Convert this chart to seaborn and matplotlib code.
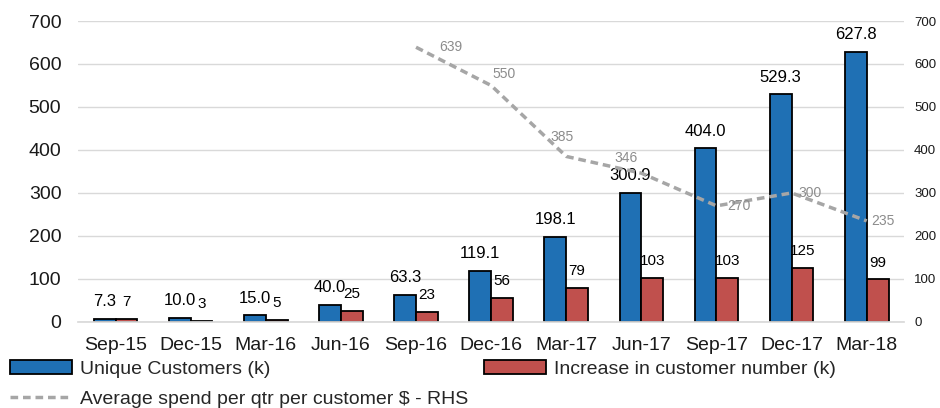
import numpy as np
import pandas as pd
import matplotlib
matplotlib.use("Agg")
import matplotlib.pyplot as plt
import seaborn as sns
from matplotlib.patches import Patch
from matplotlib.lines import Line2D

quarters = ["Sep-15", "Dec-15", "Mar-16", "Jun-16", "Sep-16", "Dec-16",
            "Mar-17", "Jun-17", "Sep-17", "Dec-17", "Mar-18"]
unique_customers = [7.3, 10.0, 15.0, 40.0, 63.3, 119.1, 198.1, 300.9, 404.0, 529.3, 627.8]
customer_increase = [7, 3, 5, 25, 23, 56, 79, 103, 103, 125, 99]
spend_quarters = ["Sep-16", "Dec-16", "Mar-17", "Jun-17", "Sep-17", "Dec-17", "Mar-18"]
avg_spend = [639, 550, 385, 346, 270, 300, 235]

bar_name = "Unique Customers (k)"
inc_name = "Increase in customer number (k)"
line_name = "Average spend per qtr per customer $ - RHS"

BLUE = "#1f70b4"
RED = "#c0504d"
GREY = "#a6a6a6"

df = pd.DataFrame({
    "quarter": quarters * 2,
    "value": unique_customers + customer_increase,
    "series": [bar_name] * len(quarters) + [inc_name] * len(quarters),
})
line_df = pd.DataFrame({
    "pos": [quarters.index(q) for q in spend_quarters],
    "spend": avg_spend,
})

sns.set_theme(style="white")
plt.rcParams["font.family"] = ["Liberation Sans", "DejaVu Sans"]

fig = plt.figure(figsize=(9.4, 4.08), dpi=100)
ax = fig.add_axes([0.083, 0.211, 0.879, 0.7375])

sns.barplot(data=df, x="quarter", y="value", hue="series", order=quarters,
            palette=[BLUE, RED], saturation=1, width=0.58, edgecolor="black",
            linewidth=1.3, legend=False, ax=ax)

ax.set_ylim(0, 700)
ax.set_xlim(-0.5, len(quarters) - 0.5)
ax.set_yticks(range(0, 701, 100))
ax.yaxis.grid(True, color="#d9d9d9", linewidth=1)
ax.set_axisbelow(True)
ax.set_xlabel("")
ax.set_ylabel("")
for s in ["top", "right", "left"]:
    ax.spines[s].set_visible(False)
ax.spines["bottom"].set_color("#d9d9d9")
ax.tick_params(axis="y", length=0, pad=12, labelsize=14, labelcolor="#1a1a1a")
ax.tick_params(axis="x", length=0, pad=11, labelsize=14, labelcolor="#1a1a1a")

ax.bar_label(ax.containers[0], labels=[f"{v:.1f}" for v in unique_customers],
             padding=7, fontsize=12, color="black")
ax.bar_label(ax.containers[1], labels=[f"{v:d}" for v in customer_increase],
             padding=7, fontsize=11, color="black")

ax2 = ax.twinx()
sns.lineplot(data=line_df, x="pos", y="spend", color=GREY, linewidth=2.5,
             linestyle=(0, (2.2, 1.4)), ax=ax2)
ax2.set_ylim(0, 700)
ax2.set_yticks(range(0, 701, 100))
ax2.set_ylabel("")
ax2.set_xlabel("")
for s in ax2.spines.values():
    s.set_visible(False)
ax2.tick_params(axis="y", length=0, pad=7, labelsize=9.5, labelcolor="#1a1a1a")

# label offsets in points (dx, dy)
label_offsets = [(25, 0), (9, 8), (-3, 14), (-11, 11), (16, 0), (13, 0), (12, 0)]
for (x, y), (dx, dy) in zip(zip(line_df["pos"], line_df["spend"]), label_offsets):
    ax2.annotate(f"{y}", (x, y), xytext=(dx, dy), textcoords="offset points",
                 ha="center", va="center", fontsize=10, color="#8c8c8c")

handles = [
    Patch(facecolor=BLUE, edgecolor="black", linewidth=1.3, label=bar_name),
    Line2D([], [], color=GREY, linewidth=2.5, linestyle=(0, (2.2, 1.4)), label=line_name),
    Patch(facecolor=RED, edgecolor="black", linewidth=1.3, label=inc_name),
]
fig.legend(handles=handles, ncol=2, loc="upper left",
           bbox_to_anchor=(10 / 940, 1 - 360 / 408), frameon=False,
           fontsize=14, handlelength=3.2, handleheight=0.7, handletextpad=0.4,
           labelspacing=0.65, columnspacing=0.8, borderpad=0, borderaxespad=0)

fig.savefig("out.png", dpi=100)
